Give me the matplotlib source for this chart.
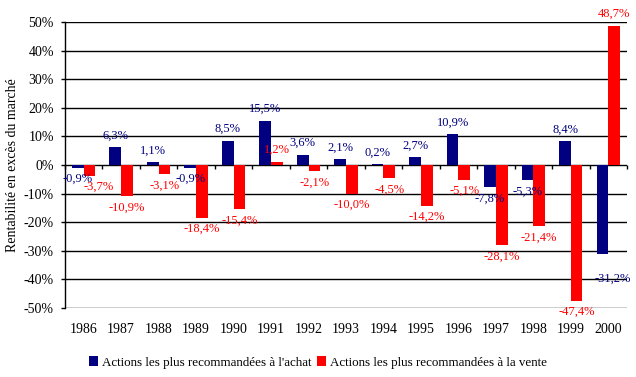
import numpy as np
import matplotlib
matplotlib.use('Agg')
import matplotlib.pyplot as plt
from matplotlib.ticker import FuncFormatter

# données
years = ['1986', '1987', '1988', '1989', '1990', '1991', '1992', '1993',
         '1994', '1995', '1996', '1997', '1998', '1999', '2000']
achat = [-0.9, 6.3, 1.1, -0.9, 8.5, 15.5, 3.6, 2.1, 0.2, 2.7, 10.9, -7.8, -5.3, 8.4, -31.2]
vente = [-3.7, -10.9, -3.1, -18.4, -15.4, 1.2, -2.1, -10.0, -4.5, -14.2, -5.1, -28.1, -21.4, -47.4, 48.7]
label_achat = "Actions les plus recommandées à l'achat"
label_vente = "Actions les plus recommandées à la vente"
ylabel = 'Rentabilité en excès du marché'

BLUE = '#000080'
RED = '#FF0000'

plt.rcParams['font.family'] = ['Liberation Serif', 'DejaVu Serif']
plt.rcParams['font.size'] = 9

fig = plt.figure(figsize=(6.36, 3.77), dpi=100)
ax = fig.add_axes([0.102, 0.183, 0.884, 0.7586])

x = np.arange(len(years))
w = 0.31
b1 = ax.bar(x - w / 2, achat, w, color=BLUE, zorder=3, label=label_achat)
b2 = ax.bar(x + w / 2, vente, w, color=RED, zorder=3, label=label_vente)

# décalages de quelques étiquettes (en points)
shift = {('v', 0): (7, 0), ('a', 14): (7, -9)}

def fmt(v):
    return f'{v:.1f}%'.replace('.', ',')

for key, bars, vals, col in (('a', b1, achat, BLUE), ('v', b2, vente, RED)):
    for i, (bar, v) in enumerate(zip(bars, vals)):
        dx, dy = shift.get((key, i), (0, 0))
        off = 4 if v >= 0 else -4
        ax.annotate(fmt(v), (bar.get_x() + bar.get_width() / 2, v),
                    xytext=(dx, off + dy), textcoords='offset points',
                    ha='center', va='bottom' if v >= 0 else 'top',
                    color=col, zorder=4)

ax.set_xlim(-0.5, len(years) - 0.5)
ax.set_ylim(-50, 50)
ax.set_yticks(np.arange(-50, 51, 10))
ax.yaxis.set_major_formatter(FuncFormatter(lambda v, p: f'{int(round(v))}%'))
ax.yaxis.grid(True, color='black', linewidth=1)
ax.set_axisbelow(True)

ax.set_xticks(x)
ax.set_xticklabels(years)
ax.tick_params(axis='x', length=0, pad=11, labelsize=10)
ax.tick_params(axis='y', length=3, width=1, pad=5, labelsize=10)
for s in ('top', 'right', 'bottom'):
    ax.spines[s].set_visible(False)
ax.spines['left'].set_linewidth(1)

# axe des catégories sur la ligne 0 avec graduations entre les années
sec = ax.secondary_xaxis(0.5)
sec.set_xticks(np.arange(len(years) + 1) - 0.5)
sec.set_xticklabels([])
sec.tick_params(axis='x', direction='out', length=3, width=1,
                top=False, bottom=True, labeltop=False, labelbottom=False)
for s in sec.spines.values():
    s.set_visible(False)

ax.set_ylabel(ylabel, labelpad=3, fontsize=10)

fig.legend(handles=[b1, b2], loc='lower center', bbox_to_anchor=(0.5, 0.0),
           ncol=2, frameon=False, handlelength=0.7, handleheight=0.7,
           handletextpad=0.3, columnspacing=0.4, borderaxespad=0.25,
           fontsize=9.4)

fig.savefig('out.png', dpi=100, facecolor='white')
